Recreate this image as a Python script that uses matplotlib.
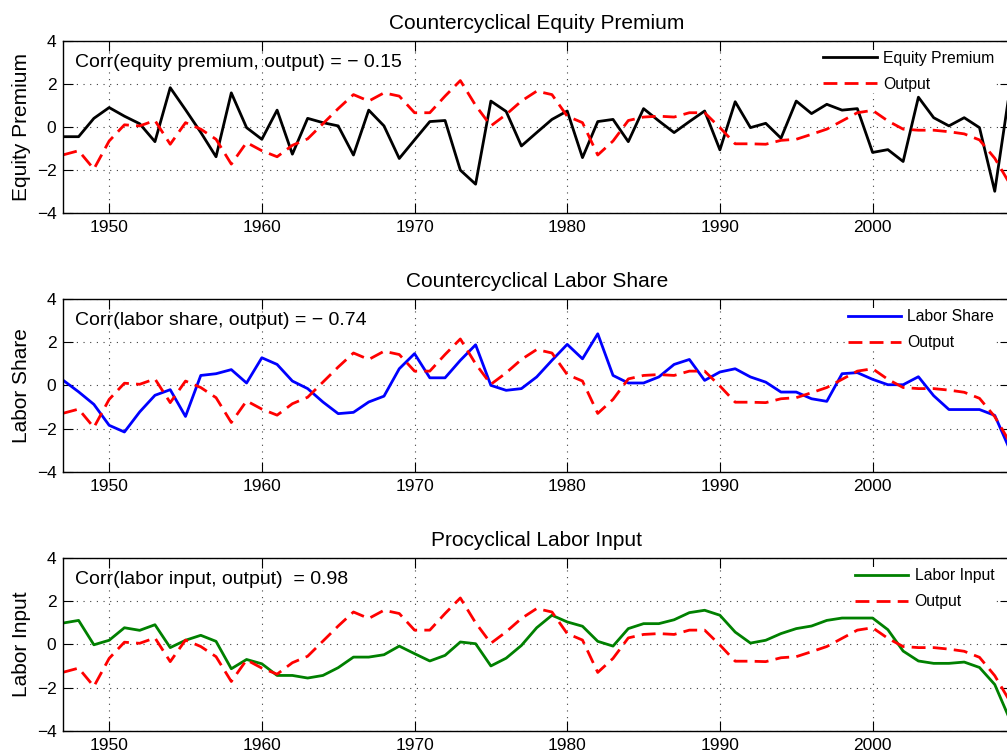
import numpy as np
import matplotlib
matplotlib.use("Agg")
import matplotlib.pyplot as plt

plt.rcParams['font.family'] = ['Liberation Sans', 'DejaVu Sans']

years = np.arange(1947, 2010)

output = [-1.29, -1.1, -1.95, -0.65, 0.1, 0.05, 0.3, -0.8, 0.2, -0.1,
          -0.57, -1.72, -0.72, -1.1, -1.38, -0.85, -0.55, 0.15, 0.85, 1.5,
          1.2, 1.58, 1.43, 0.66, 0.66, 1.43, 2.15, 1.0, 0.05, 0.58,
          1.2, 1.66, 1.5, 0.5, 0.2, -1.3, -0.65, 0.3, 0.46, 0.5,
          0.46, 0.66, 0.66, -0.03, -0.78, -0.78, -0.8, -0.62, -0.57, -0.34,
          -0.1, 0.28, 0.66, 0.77, 0.28, -0.1, -0.15, -0.15, -0.22, -0.32,
          -0.6, -1.45, -2.65]

equity_premium = [-0.45, -0.45, 0.4, 0.9, 0.5, 0.15, -0.68, 1.82, 0.8, -0.25,
                  -1.38, 1.58, -0.03, -0.57, 0.78, -1.26, 0.4, 0.2, 0.05, -1.3,
                  0.78, 0.05, -1.46, -0.6, 0.25, 0.3, -2.0, -2.65, 1.2, 0.72,
                  -0.88, -0.26, 0.35, 0.74, -1.42, 0.25, 0.35, -0.68, 0.85, 0.28,
                  -0.26, 0.25, 0.74, -1.06, 1.17, -0.03, 0.17, -0.52, 1.2, 0.62,
                  1.05, 0.78, 0.85, -1.18, -1.05, -1.6, 1.38, 0.43, 0.05, 0.43,
                  -0.03, -2.98, 1.8]

labor_share = [0.23, -0.3, -0.88, -1.85, -2.16, -1.23, -0.46, -0.2, -1.44, 0.46,
               0.54, 0.73, 0.11, 1.28, 0.97, 0.2, -0.15, -0.77, -1.31, -1.25,
               -0.77, -0.5, 0.77, 1.47, 0.35, 0.35, 1.16, 1.88, 0.0, -0.23,
               -0.15, 0.39, 1.16, 1.9, 1.23, 2.39, 0.46, 0.11, 0.11, 0.39,
               0.97, 1.2, 0.23, 0.62, 0.77, 0.39, 0.15, -0.31, -0.31, -0.62,
               -0.74, 0.54, 0.59, 0.28, 0.03, 0.03, 0.4, -0.48, -1.12, -1.12,
               -1.12, -1.39, -3.0]

labor_input = [0.99, 1.11, -0.02, 0.19, 0.77, 0.65, 0.91, -0.15, 0.19, 0.42,
               0.14, -1.13, -0.7, -0.9, -1.44, -1.44, -1.56, -1.44, -1.08, -0.59,
               -0.59, -0.48, -0.08, -0.43, -0.77, -0.51, 0.11, 0.03, -1.0, -0.64,
               -0.05, 0.77, 1.35, 1.04, 0.84, 0.14, -0.08, 0.73, 0.96, 0.96,
               1.14, 1.47, 1.58, 1.35, 0.57, 0.06, 0.19, 0.5, 0.73, 0.85,
               1.11, 1.22, 1.22, 1.22, 0.68, -0.31, -0.77, -0.88, -0.88, -0.82,
               -1.07, -1.86, -3.5]

panels = [
    ("Countercyclical Equity Premium", "Equity Premium", equity_premium, "k",
     "Corr(equity premium, output) = \u2212 0.15"),
    ("Countercyclical Labor Share", "Labor Share", labor_share, "#0000ff",
     "Corr(labor share, output) = \u2212 0.74"),
    ("Procyclical Labor Input", "Labor Input", labor_input, "#008000",
     "Corr(labor input, output)  = 0.98"),
]

bottoms = [0.7171, 0.3744, 0.0309]

fig = plt.figure(figsize=(10.07, 7.54), dpi=100)

for (title, name, series, color, corr), b in zip(panels, bottoms):
    ax = fig.add_axes([0.0629, b, 0.9401, 0.229])
    ax.plot(years, series, color=color, lw=2, label=name)
    ax.plot(years, output, color="#ff0000", lw=2, linestyle=(0, (5, 2.6)),
            label="Output")
    ax.set_xlim(1947, 2009)
    ax.set_ylim(-4, 4)
    ax.set_xticks([1950, 1960, 1970, 1980, 1990, 2000])
    ax.set_yticks([-4, -2, 0, 2, 4])
    ax.grid(True, color="0.25", linestyle=(0, (1, 5)), linewidth=0.8)
    ax.tick_params(direction="in", length=7, width=0.8, top=True, right=True,
                   labelsize=12.5, pad=5)
    for s in ax.spines.values():
        s.set_linewidth(1.0)
    ax.set_title(title, fontsize=15, pad=8.4)
    ax.set_ylabel(name, fontsize=15, labelpad=4)
    ax.text(0.012, 0.875, corr, transform=ax.transAxes, fontsize=14,
            va="center", ha="left")
    # white box without border, like the original legend
    leg = ax.legend(loc="upper right", bbox_to_anchor=(0.9876, 0.964),
                    fontsize=11.3, handlelength=3.4, handletextpad=0.4,
                    labelspacing=0.7, borderpad=0.05, borderaxespad=0.2,
                    fancybox=False, framealpha=1.0)
    leg.get_frame().set_edgecolor("white")
    leg.get_frame().set_linewidth(0)

fig.savefig("out.png", dpi=100)
